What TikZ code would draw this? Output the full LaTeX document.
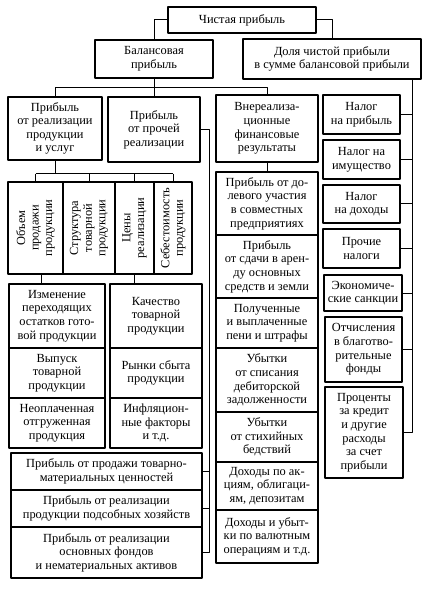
\documentclass[tikz,border=0pt]{standalone}
\usepackage{fontspec}
\setmainfont{Liberation Serif}
\begin{document}
\begin{tikzpicture}[x=1pt, y=-1pt, line join=round,
	font=\fontsize{12.4}{13.6}\selectfont,
	blk/.style={draw, line width=1.2pt, align=center, inner sep=1pt},
	lnk/.style={line width=1pt}]
	\useasboundingbox (0,0) rectangle (439,593);
	% top levels
	\node[blk, minimum width=148, minimum height=26] (net) at (242,20) {Чистая прибыль};
	\node[blk, minimum width=118, minimum height=38] (bal) at (154,59) {Балансовая\\прибыль};
	\node[blk, minimum width=178, minimum height=40] (share) at (332,59) {Доля чистой прибыли\\в сумме балансовой прибыли};
	\node[blk, minimum width=94, minimum height=63] (sales) at (55,128.5) {Прибыль\\от реализации\\продукции\\и услуг};
	\node[blk, minimum width=92, minimum height=65] (other) at (154,129.5) {Прибыль\\от прочей\\реализации};
	\node[blk, minimum width=102, minimum height=67] (nonop) at (267,128.5) {Внереализа-\\ционные\\финансовые\\результаты};
	% factors (rotated)
	\node[blk, rotate=90, minimum width=92, minimum height=55] (f1) at (35.5,228) {Объем\\продажи\\продукции};
	\node[blk, rotate=90, minimum width=92, minimum height=52] (f2) at (89,228) {Структура\\товарной\\продукции};
	\node[blk, rotate=90, minimum width=92, minimum height=39] (f3) at (134.5,228) {Цены\\реализации};
	\node[blk, rotate=90, minimum width=92, minimum height=38] (f4) at (173,228) {Себестоимость\\продукции};
	% lower left
	\node[blk, minimum width=96, minimum height=64] (chg) at (57,316) {Изменение\\переходящих\\остатков гото-\\вой продукции};
	\node[blk, minimum width=96, minimum height=50] (out) at (57,373) {Выпуск\\товарной\\продукции};
	\node[blk, minimum width=96, minimum height=50] (unpaid) at (57,423) {Неоплаченная\\отгруженная\\продукция};
	\node[blk, minimum width=92, minimum height=64] (qual) at (156,316) {Качество\\товарной\\продукции};
	\node[blk, minimum width=92, minimum height=50] (mkt) at (156,373) {Рынки сбыта\\продукции};
	\node[blk, minimum width=92, minimum height=50] (infl) at (156,423) {Инфляцион-\\ные факторы\\и т.д.};
	\node[blk, minimum width=191, minimum height=37] (b1) at (106.5,471.5) {Прибыль от продажи товарно-\\материальных ценностей};
	\node[blk, minimum width=191, minimum height=37] (b2) at (106.5,508.5) {Прибыль от реализации\\продукции подсобных хозяйств};
	\node[blk, minimum width=191, minimum height=51] (b3) at (106.5,552.5) {Прибыль от реализации\\основных фондов\\и нематериальных активов};
	% non-operating results
	\node[blk, minimum width=102, minimum height=63] (n1) at (267,203.5) {Прибыль от до-\\левого участия\\в совместных\\предприятиях};
	\node[blk, minimum width=102, minimum height=63] (n2) at (267,266.5) {Прибыль\\от сдачи в арен-\\ду основных\\средств и земли};
	\node[blk, minimum width=102, minimum height=50] (n3) at (267,323) {Полученные\\и выплаченные\\пени и штрафы};
	\node[blk, minimum width=102, minimum height=64] (n4) at (267,380) {Убытки\\от списания\\дебиторской\\задолженности};
	\node[blk, minimum width=102, minimum height=50] (n5) at (267,437) {Убытки\\от стихийных\\бедствий};
	\node[blk, minimum width=102, minimum height=48] (n6) at (267,486) {Доходы по ак-\\циям, облигаци-\\ям, депозитам};
	\node[blk, minimum width=102, minimum height=53] (n7) at (267,536.5) {Доходы и убыт-\\ки по валютным\\операциям и т.д.};
	% taxes
	\node[blk, minimum width=77, minimum height=39] (t1) at (361.5,114.5) {Налог\\на прибыль};
	\node[blk, minimum width=77, minimum height=39] (t2) at (361.5,159.5) {Налог на\\имущество};
	\node[blk, minimum width=77, minimum height=38] (t3) at (361.5,204) {Налог\\на доходы};
	\node[blk, minimum width=77, minimum height=39] (t4) at (361.5,248.5) {Прочие\\налоги};
	\node[blk, minimum width=78, minimum height=36] (t5) at (363,293) {Экономиче-\\ские санкции};
	\node[blk, minimum width=77, minimum height=65] (t6) at (363.5,349.5) {Отчисления\\в благотво-\\рительные\\фонды};
	\node[blk, minimum width=78, minimum height=91] (t7) at (364,432.5) {Проценты\\за кредит\\и другие\\расходы\\за счет\\прибыли};
	% connectors
	\draw[lnk] (net.west) -| (bal.north);
	\draw[lnk] (net.east) -| (share.north);
	\path (bal.south) ++(0,9) coordinate (bb);
	\draw[lnk] (bal.south) -- (other.north);
	\draw[lnk] (sales.north) |- (bb) -| (nonop.north);
	\path (sales.south) ++(0,13) coordinate (fb);
	\draw[lnk] (sales.south) -- (fb);
	\draw[lnk] (fb -| f1) -- (fb -| f4);
	\foreach \f in {f1,f2,f3,f4} \draw[lnk] (fb -| \f) -- (\f.east);
	\draw[lnk] ([xshift=6]f1.west) -- ([xshift=6]f1.west |- chg.north);
	\draw[lnk] (f3.west) -- (f3.west |- qual.north);
	\path (other.east) ++(9,0) coordinate (ob);
	\draw[lnk] (other.east) -- (ob) |- (b3.east);
	\foreach \b in {b1,b2} \draw[lnk] (\b.east) -- (\b.east -| ob);
	\draw[lnk] (nonop.south) -- (n1.north);
	\coordinate (tr) at ([xshift=-9]share.south east);
	\draw[lnk] (tr) |- (t7.east);
	\foreach \t in {t1,t2,t3,t4,t5,t6} \draw[lnk] (\t.east) -- (\t.east -| tr);
\end{tikzpicture}
\end{document}
